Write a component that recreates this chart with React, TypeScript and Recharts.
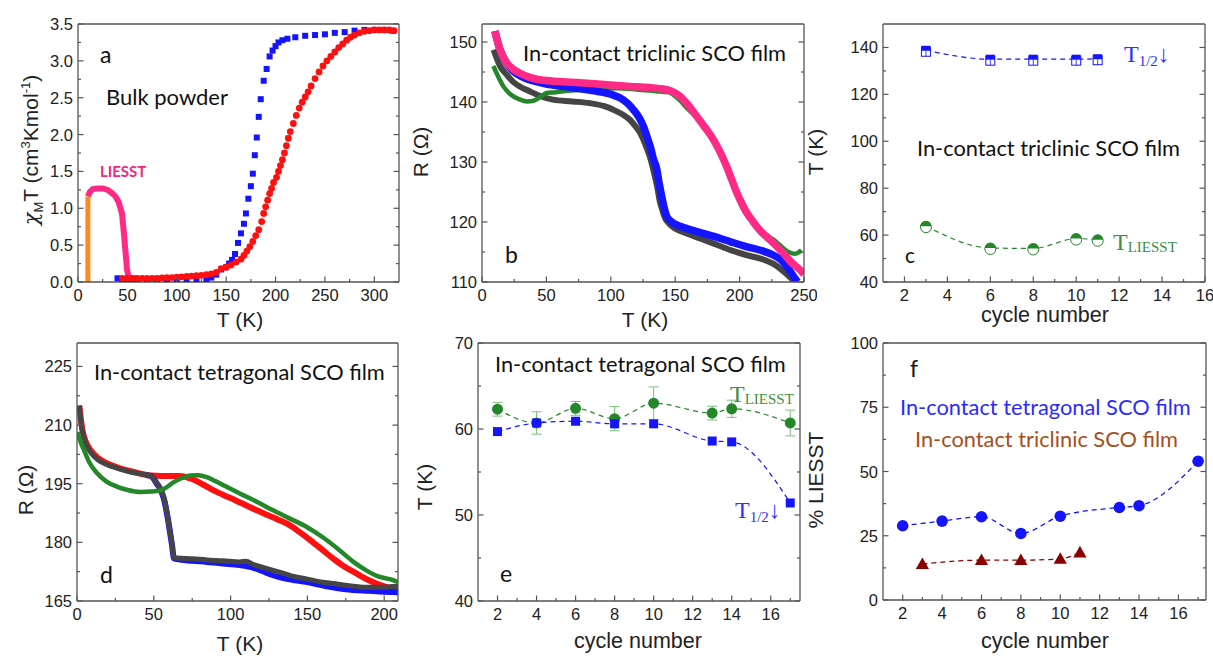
import React from 'react';
import { ComposedChart, XAxis, YAxis, Line, Scatter, ErrorBar } from 'recharts';

// ---------- Panel a : bulk powder chi_M T vs T ----------
const aCooling: [number, number][] = [
  [40, 0.05], [45, 0.03], [50, 0.02], [55, 0.02], [60, 0.01], [70, 0.01], [80, 0.01], [90, 0.01], [100, 0.01],
  [110, 0.02], [120, 0.02], [130, 0.04], [135, 0.06], [140, 0.1], [145, 0.17], [150, 0.2], [153, 0.25], [156, 0.3],
  [159, 0.38], [162, 0.53], [165, 0.66], [168, 0.79], [170, 0.93], [172.5, 1.13], [175, 1.3], [177, 1.47],
  [179, 1.72], [181, 1.96], [183, 2.24], [185, 2.48], [188, 2.73], [191, 2.89], [194, 3.06], [197, 3.14],
  [200, 3.2], [203, 3.25], [207, 3.28], [212, 3.3], [220, 3.32], [230, 3.34], [240, 3.35], [250, 3.36],
  [260, 3.38], [270, 3.39], [280, 3.41], [290, 3.42], [300, 3.42], [310, 3.42], [318, 3.41],
];
const aHeating: [number, number][] = [
  [45, 0.05], [50, 0.05], [55, 0.05], [60, 0.05], [65, 0.05], [70, 0.05], [75, 0.05], [80, 0.05], [85, 0.055],
  [90, 0.06], [95, 0.06], [100, 0.065], [105, 0.07], [110, 0.075], [115, 0.08], [120, 0.085], [125, 0.09],
  [130, 0.1], [135, 0.11], [140, 0.13], [145, 0.18], [150, 0.2], [155, 0.23], [160, 0.27], [165, 0.31],
  [168, 0.36], [171, 0.42], [174, 0.48], [177, 0.55], [180, 0.63], [183, 0.71], [186, 0.82], [188, 0.93],
  [190, 1.02], [192, 1.11], [194, 1.2], [196, 1.27], [198, 1.35], [201, 1.42], [203, 1.5], [205, 1.58],
  [207, 1.66], [209, 1.75], [211, 1.85], [213, 1.95], [215, 2.04], [218, 2.15], [221, 2.26], [224, 2.36],
  [227, 2.44], [230, 2.51], [233, 2.58], [236, 2.66], [240, 2.76], [244, 2.85], [248, 2.93], [252, 3.0],
  [256, 3.06], [260, 3.12], [264, 3.18], [268, 3.23], [272, 3.28], [276, 3.32], [280, 3.35], [285, 3.38],
  [290, 3.4], [295, 3.41], [300, 3.42], [305, 3.42], [310, 3.42], [315, 3.42], [320, 3.41],
];
const aLiesst: [number, number][] = [
  [10, 1.16], [12, 1.22], [15, 1.26], [20, 1.27], [25, 1.27], [30, 1.25], [35, 1.2], [38, 1.16], [41, 1.09],
  [43, 1.0], [44.5, 0.93], [45.5, 0.8], [46.5, 0.66], [47.5, 0.5], [48.5, 0.35], [49.5, 0.18], [51, 0.08],
  [54, 0.05], [60, 0.05],
];
const aIrradiation: [number, number][] = [[10, 0], [10, 1.16]];

// ---------- Panel b : triclinic film R vs T ----------
const bGray: [number, number][] = [
  [9, 148.7], [14, 146], [19, 144.6], [24, 143.4], [30, 142.5], [37, 141.8], [45, 141], [55, 140.4], [70, 140.1],
  [84, 139.8], [95, 139.3], [102, 138.7], [110, 137.8], [115, 137], [120, 135.7], [123, 134.8], [127, 132.8],
  [131, 130.4], [134, 127.8], [136, 125.9], [138, 123.5], [140, 122], [142, 120.7], [145, 119.8], [150, 118.9],
  [159, 118.1], [170, 117.2], [180, 116.4], [193, 115.3], [205, 114.5], [219, 113.7], [228, 112.8], [237, 111.2],
  [243, 110],
];
const bGreen: [number, number][] = [
  [8.8, 146], [12, 144.5], [16.6, 142.6], [22, 141.3], [29.5, 140.4], [35, 140.1], [40, 140.2], [45, 140.8],
  [50, 141.5], [56, 141.6], [63, 141.8], [75, 142], [90, 142.2], [105, 142.3], [120, 142.1], [135, 141.8],
  [145, 141.6], [152, 140.6], [160, 138.8], [167, 137.4], [175, 135], [180, 133.4], [185, 131.3], [190, 129],
  [195, 126.3], [198, 124.5], [203, 122], [208, 120.6], [214, 119.3], [220, 118], [226, 117.1], [232, 116],
  [238, 115], [243, 114.7], [248, 115.3],
];
const bBlue: [number, number][] = [
  [10, 151.8], [14, 148.7], [19, 146.5], [25, 145], [32, 144.1], [40, 143.5], [50, 143], [63, 142.6], [76, 142.2],
  [89, 141.8], [100, 141.3], [107, 140.7], [113, 139.8], [117.6, 138.7], [122, 137.4], [125.4, 135.9],
  [128, 134.3], [130.6, 132.6], [133, 130.6], [135.8, 128.7], [137.5, 126.5], [139.6, 124.2], [141.5, 122.3],
  [143.5, 120.9], [148.7, 119.8], [155, 119.2], [167, 118.4], [180, 117.6], [193, 116.7], [205, 115.9],
  [219, 115.1], [226, 114.5], [232, 113.7], [237, 112.5], [242, 110.9], [245, 110],
];
const bPink: [number, number][] = [
  [10, 151.8], [14, 148.7], [19.2, 146.5], [24, 145.5], [29.5, 144.8], [37, 144.1], [45, 143.7], [60, 143.4],
  [76, 143.2], [95, 142.9], [115, 142.6], [130, 142.4], [143.5, 142.05], [150, 141.5], [154, 140.9], [160, 139.5],
  [166.8, 137.6], [173, 135.8], [179.8, 133.7], [185, 131.6], [190, 129.2], [194, 127], [198, 124.8], [202, 123],
  [205.7, 121.5], [210, 120.2], [213.5, 119.2], [218, 118.1], [223.8, 117], [229, 115.9], [234, 114.8],
  [240, 113.3], [247, 112], [250, 111.3],
];

// ---------- Panel c : triclinic film vs cycle ----------
const cCycles = [3, 6, 8, 10, 11];
const cT12 = [138.8, 135, 135, 135, 135.2];
const cTLiesst = [63.8, 54.5, 54.3, 58.5, 58];

// ---------- Panel d : tetragonal film R vs T ----------
const dRed: [number, number][] = [
  [1.5, 215], [3.6, 208.6], [6, 205.5], [9, 203.5], [14, 201.5], [20, 200.1], [26, 199.2], [33, 198.4],
  [40, 197.7], [48, 197.1], [55, 197], [62, 197], [67, 197], [75, 196.2], [82, 194.8], [89, 193.3], [96, 192],
  [103, 190.8], [110, 189.5], [117, 188.2], [124, 187], [131, 185.8], [138.5, 184.4], [145, 182.6], [152, 180.5],
  [160, 178], [167, 175.8], [174, 173.8], [181.6, 172.1], [190, 170.3], [198, 169], [205, 168.2], [209, 167.8],
];
const dBlue: [number, number][] = [
  [45, 197.2], [48, 197], [52, 195], [55, 193], [57, 190.5], [58.5, 187.5], [59.7, 184.8], [61, 181.5],
  [62, 178.9], [63, 176], [65, 175.7], [75, 175.3], [84.5, 175], [95, 174.6], [106, 174.2], [115, 173.5],
  [121, 172.6], [127.7, 171.6], [135, 170.8], [142, 170.3], [149, 169.9], [160, 169], [175, 168], [190, 167.6],
  [205, 167.3], [209, 167.2],
];
const dGray: [number, number][] = [
  [1.5, 215], [2.5, 211], [3.6, 208.3], [6, 205], [9, 203], [14, 201], [20, 199.8], [26, 199], [33, 198.2],
  [40, 197.6], [48, 197], [52, 195.2], [55, 193.2], [57, 190.8], [58.5, 187.8], [59.7, 185], [61, 181.8],
  [62, 179], [63, 176.2], [65, 176], [75, 175.8], [84.5, 175.5], [95, 175.3], [106, 175], [110, 175.2],
  [115, 174.3], [121, 173.6], [127.7, 172.8], [135, 172], [142, 171.2], [150, 170.6], [160, 169.8], [170, 169.3],
  [180, 168.8], [190, 168.5], [200, 168.5], [205, 168.7], [209, 168.7],
];
const dGreen: [number, number][] = [
  [0.4, 208.2], [2.5, 205.5], [4.7, 203.5], [8, 200.5], [13.3, 197.6], [19, 195.6], [26.3, 194.2], [33, 193.4],
  [41.4, 192.9], [48, 193], [54.4, 193.3], [58, 194], [63, 195.4], [68, 196.4], [73.8, 197.1], [79, 197.2],
  [84.5, 196.7], [90, 195.7], [97, 194.3], [106, 192.5], [117, 190.4], [127.7, 188.2], [138, 186.2],
  [149.3, 184], [160, 181.3], [170.9, 178], [180, 175], [188, 172.9], [196, 171.3], [205.4, 170.4], [209, 169.8],
];

// ---------- Panel e : tetragonal film vs cycle ----------
const eCycles = [2, 4, 6, 8, 10, 13, 14, 17];
const eTLiesst = [62.3, 60.7, 62.4, 61.2, 63.0, 61.85, 62.35, 60.7];
const eTLiesstErr = [0.8, 1.3, 0.8, 1.4, 1.9, 0.8, 1.0, 1.5];
const eT12 = [59.7, 60.7, 60.9, 60.6, 60.6, 58.6, 58.5, 51.4];

// ---------- Panel f : % LIESST vs cycle ----------
const fTetCycles = [2, 4, 6, 8, 10, 13, 14, 17];
const fTetLiesst = [28.9, 30.7, 32.4, 25.9, 32.6, 36.0, 36.7, 54.0];
const fTriCycles = [3, 6, 8, 10, 11];
const fTriLiesst = [14, 15.5, 15.5, 16, 18.5];

// ---------- tick labels ----------
const aXMajor = [0, 50, 100, 150, 200, 250, 300];
const aXMinor = [25, 75, 125, 175, 225, 275];
const aYMajor = [0, 0.5, 1, 1.5, 2, 2.5, 3, 3.5];
const aYMinor = [0.25, 0.75, 1.25, 1.75, 2.25, 2.75, 3.25];
const bXMajor = [0, 50, 100, 150, 200, 250];
const bXMinor = [25, 75, 125, 175, 225];
const bYMajor = [110, 120, 130, 140, 150];
const bYMinor = [115, 125, 135, 145];
const cycXMajor = [2, 4, 6, 8, 10, 12, 14, 16];
const cycXMinor = [3, 5, 7, 9, 11, 13, 15, 17];
const cYMajor = [40, 60, 80, 100, 120, 140];
const cYMinor = [50, 70, 90, 110, 130];
const dXMajor = [0, 50, 100, 150, 200];
const dXMinor = [25, 75, 125, 175];
const dYMajor = [165, 180, 195, 210, 225];
const dYMinor = [172.5, 187.5, 202.5, 217.5];
const eYMajor = [40, 50, 60, 70];
const eYMinor = [45, 55, 65];
const fYMajor = [0, 25, 50, 75, 100];
const fYMinor = [12.5, 37.5, 62.5, 87.5];

const pts = (arr: [number, number][]) => arr.map(([x, y]) => ({ x, y }));
const zipPts = (xs: number[], ys: number[]) => xs.map((x, i) => ({ x, y: ys[i] }));

const SANS = '"Liberation Sans", Arial, sans-serif';
const CAL = 'Lato, "Open Sans", sans-serif';
const SERIF = '"Liberation Serif", "Times New Roman", serif';
const FRAME = '#555';
const AXLINE = { stroke: FRAME, strokeWidth: 1.3 };
const TICKFONT = 16.5;
const TITLEFONT = 21.8;

const BLUE = '#1414ff';
const RED = '#ff1010';
const PINK = '#ff2a85';
const ORANGE = '#ff8a1c';
const GRAY = '#454545';
const GREEN = '#24872a';

function makeTick(side: string, majors: number[], fmt: (v: number) => string, showLabel: boolean) {
  return (p: any) => {
    const { x, y, payload } = p;
    const v = payload.value;
    const isMajor = majors.some((m) => Math.abs(m - v) < 1e-9);
    const len = isMajor ? 5.5 : 3;
    let line: any = null;
    let label: any = null;
    if (side === 'bottom') {
      line = <line x1={x} y1={y} x2={x} y2={y - len} stroke={FRAME} strokeWidth={1.2} />;
      if (showLabel && isMajor)
        label = <text x={x} y={y + 19} textAnchor="middle" fontFamily={SANS} fontSize={TICKFONT} fill="#222">{fmt(v)}</text>;
    } else if (side === 'top') {
      line = <line x1={x} y1={y} x2={x} y2={y + len} stroke={FRAME} strokeWidth={1.2} />;
    } else if (side === 'left') {
      line = <line x1={x} y1={y} x2={x + len} y2={y} stroke={FRAME} strokeWidth={1.2} />;
      if (showLabel && isMajor)
        label = <text x={x - 5} y={y + 6} textAnchor="end" fontFamily={SANS} fontSize={TICKFONT} fill="#222">{fmt(v)}</text>;
    } else {
      line = <line x1={x} y1={y} x2={x - len} y2={y} stroke={FRAME} strokeWidth={1.2} />;
    }
    return <g>{line}{label}</g>;
  };
}

type Box = { L: number; T: number; R: number; B: number };

function Panel(props: {
  box: Box; xd: [number, number]; yd: [number, number];
  xMaj: number[]; xMin: number[]; yMaj: number[]; yMin: number[];
  yFmt?: (v: number) => string; children?: any;
}) {
  const { box, xd, yd, xMaj, xMin, yMaj, yMin, children } = props;
  const yFmt = props.yFmt || ((v: number) => String(v));
  const mL = 60, mT = 10, mR = 12, mB = 32;
  const w = box.R - box.L + mL + mR + 2;
  const h = box.B - box.T + mT + mB + 2;
  const xt = [...xMaj, ...xMin].filter((v) => v >= xd[0] && v <= xd[1]).sort((a, b) => a - b);
  const yt = [...yMaj, ...yMin].filter((v) => v >= yd[0] && v <= yd[1]).sort((a, b) => a - b);
  const common = { type: 'number' as const, interval: 0 as const, tickSize: 0, tickMargin: 0, tickLine: false, axisLine: AXLINE, allowDataOverflow: true };
  return (
    <div style={{ position: 'absolute', left: box.L - mL - 1, top: box.T - mT - 1 }}>
      <ComposedChart width={w} height={h} margin={{ left: mL, top: mT, right: mR, bottom: mB }}>
        <XAxis {...common} dataKey="x" domain={xd} ticks={xt} height={1} tick={makeTick('bottom', xMaj, String, true)} />
        <XAxis {...common} xAxisId="top" orientation="top" domain={xd} ticks={xt} height={1} tick={makeTick('top', xMaj, String, false)} />
        <YAxis {...common} dataKey="y" domain={yd} ticks={yt} width={1} tick={makeTick('left', yMaj, yFmt, true)} />
        <YAxis {...common} yAxisId="right" orientation="right" domain={yd} ticks={yt} width={1} tick={makeTick('right', yMaj, yFmt, false)} />
        {children}
      </ComposedChart>
    </div>
  );
}

const squareShape = (s: number, fill: string) => (p: any) => (
  <rect x={p.cx - s / 2} y={p.cy - s / 2} width={s} height={s} fill={fill} />
);
const circleShape = (r: number, fill: string, stroke?: string) => (p: any) => (
  <circle cx={p.cx} cy={p.cy} r={r} fill={fill} stroke={stroke || 'none'} strokeWidth={1} />
);
const triShape = (s: number, fill: string) => (p: any) => (
  <polygon points={`${p.cx},${p.cy - s * 0.6} ${p.cx - s * 0.6},${p.cy + s * 0.45} ${p.cx + s * 0.6},${p.cy + s * 0.45}`} fill={fill} />
);
const halfCircle = (r: number, c: string) => (p: any) => (
  <g>
    <circle cx={p.cx} cy={p.cy + 1} r={r} fill="#fff" stroke={c} strokeWidth={1} />
    <path d={`M ${p.cx - r} ${p.cy} A ${r} ${r} 0 0 1 ${p.cx + r} ${p.cy} Z`} fill={c} />
  </g>
);
const halfSquare = (s: number, c: string) => (p: any) => (
  <g>
    <rect x={p.cx - s / 2} y={p.cy - s / 2 + 1.5} width={s} height={s} fill="#fff" stroke={c} strokeWidth={1} />
    <line x1={p.cx} y1={p.cy} x2={p.cx} y2={p.cy + s / 2 + 1.5} stroke={c} strokeWidth={0.8} />
    <rect x={p.cx - s / 2} y={p.cy - s / 2} width={s} height={s / 2 + 0.5} fill={c} />
  </g>
);

const dash = '5 4';

export default function App() {
  const eGreen = eCycles.map((c, i) => ({ x: c, y: eTLiesst[i], err: eTLiesstErr[i] }));
  return (
    <div style={{ position: 'absolute', left: 0, top: 0, width: 1213, height: 656, background: '#fff', overflow: 'hidden' }}>
      {/* a */}
      <Panel box={{ L: 78, T: 24, R: 399, B: 282 }} xd={[0, 325]} yd={[0, 3.5]} xMaj={aXMajor} xMin={aXMinor} yMaj={aYMajor} yMin={aYMinor} yFmt={(v) => v.toFixed(1)}>
        <Scatter data={pts(aCooling)} dataKey="y" shape={squareShape(6, BLUE)} isAnimationActive={false} />
        <Scatter data={pts(aHeating)} dataKey="y" shape={circleShape(3.4, RED)} isAnimationActive={false} />
        <Line data={pts(aLiesst)} dataKey="y" type="linear" stroke={PINK} strokeWidth={6} dot={false} isAnimationActive={false} />
        <Line data={pts(aIrradiation)} dataKey="y" type="linear" stroke={ORANGE} strokeWidth={5} dot={false} isAnimationActive={false} />
      </Panel>
      {/* b */}
      <Panel box={{ L: 482, T: 24, R: 804, B: 282 }} xd={[0, 250]} yd={[110, 153]} xMaj={bXMajor} xMin={bXMinor} yMaj={bYMajor} yMin={bYMinor}>
        <Line data={pts(bGray)} dataKey="y" type="monotone" stroke={GRAY} strokeWidth={6} dot={false} isAnimationActive={false} />
        <Line data={pts(bGreen)} dataKey="y" type="monotone" stroke={GREEN} strokeWidth={4.5} dot={false} isAnimationActive={false} />
        <Line data={pts(bBlue)} dataKey="y" type="monotone" stroke={BLUE} strokeWidth={7.5} dot={false} isAnimationActive={false} />
        <Line data={pts(bPink)} dataKey="y" type="monotone" stroke={PINK} strokeWidth={7.5} dot={false} isAnimationActive={false} />
      </Panel>
      {/* c */}
      <Panel box={{ L: 883, T: 24, R: 1205, B: 282 }} xd={[1, 16]} yd={[40, 150]} xMaj={cycXMajor} xMin={cycXMinor} yMaj={cYMajor} yMin={cYMinor}>
        <Line data={zipPts(cCycles, cT12)} dataKey="y" type="monotone" stroke={BLUE} strokeWidth={1.2} strokeDasharray={dash} dot={false} isAnimationActive={false} />
        <Line data={zipPts(cCycles, cTLiesst)} dataKey="y" type="monotone" stroke={GREEN} strokeWidth={1.2} strokeDasharray={dash} dot={false} isAnimationActive={false} />
        <Scatter data={zipPts(cCycles, cT12)} dataKey="y" shape={halfSquare(9, BLUE)} isAnimationActive={false} />
        <Scatter data={zipPts(cCycles, cTLiesst)} dataKey="y" shape={halfCircle(5.5, GREEN)} isAnimationActive={false} />
      </Panel>
      {/* d */}
      <Panel box={{ L: 77, T: 343, R: 398, B: 601 }} xd={[0, 209]} yd={[165, 231]} xMaj={dXMajor} xMin={dXMinor} yMaj={dYMajor} yMin={dYMinor}>
        <Line data={pts(dRed)} dataKey="y" type="monotone" stroke={RED} strokeWidth={6} dot={false} isAnimationActive={false} />
        <Line data={pts(dBlue)} dataKey="y" type="monotone" stroke={BLUE} strokeWidth={6} dot={false} isAnimationActive={false} />
        <Line data={pts(dGray)} dataKey="y" type="monotone" stroke={GRAY} strokeWidth={5} dot={false} isAnimationActive={false} />
        <Line data={pts(dGreen)} dataKey="y" type="monotone" stroke={GREEN} strokeWidth={4.5} dot={false} isAnimationActive={false} />
      </Panel>
      {/* e */}
      <Panel box={{ L: 478, T: 343, R: 800, B: 601 }} xd={[1, 17.5]} yd={[40, 70]} xMaj={cycXMajor} xMin={cycXMinor} yMaj={eYMajor} yMin={eYMinor}>
        <Line data={zipPts(eCycles, eTLiesst)} dataKey="y" type="monotone" stroke={GREEN} strokeWidth={1.2} strokeDasharray={dash} dot={false} isAnimationActive={false} />
        <Line data={zipPts(eCycles, eT12)} dataKey="y" type="monotone" stroke={BLUE} strokeWidth={1.2} strokeDasharray={dash} dot={false} isAnimationActive={false} />
        <Scatter data={eGreen} dataKey="y" shape={circleShape(5.5, GREEN)} isAnimationActive={false}>
          <ErrorBar dataKey="err" direction="y" width={5} stroke="#7cc07c" strokeWidth={1} />
        </Scatter>
        <Scatter data={zipPts(eCycles, eT12)} dataKey="y" shape={squareShape(9, BLUE)} isAnimationActive={false} />
      </Panel>
      {/* f */}
      <Panel box={{ L: 883, T: 343, R: 1206, B: 600 }} xd={[1, 17.4]} yd={[0, 100]} xMaj={cycXMajor} xMin={cycXMinor} yMaj={fYMajor} yMin={fYMinor}>
        <Line data={zipPts(fTetCycles, fTetLiesst)} dataKey="y" type="monotone" stroke={BLUE} strokeWidth={1.3} strokeDasharray={dash} dot={false} isAnimationActive={false} />
        <Line data={zipPts(fTriCycles, fTriLiesst)} dataKey="y" type="monotone" stroke="#8b0000" strokeWidth={1.3} strokeDasharray={dash} dot={false} isAnimationActive={false} />
        <Scatter data={zipPts(fTetCycles, fTetLiesst)} dataKey="y" shape={circleShape(5.8, BLUE)} isAnimationActive={false} />
        <Scatter data={zipPts(fTriCycles, fTriLiesst)} dataKey="y" shape={triShape(11, '#8b0000')} isAnimationActive={false} />
      </Panel>

      <svg width={1213} height={656} style={{ position: 'absolute', left: 0, top: 0, pointerEvents: 'none' }}>
        {/* axis titles */}
        <g fontFamily={SANS} fontSize={21} fill="#222">
          <text x={240} y={327} textAnchor="middle">T (K)</text>
          <text x={645} y={327} textAnchor="middle">T (K)</text>
          <text x={1045} y={322} fontSize={21.5} textAnchor="middle">cycle number</text>
          <text x={240} y={651} textAnchor="middle">T (K)</text>
          <text x={638} y={648} fontSize={21.5} textAnchor="middle">cycle number</text>
          <text x={1045} y={648} fontSize={21.5} textAnchor="middle">cycle number</text>
          <text transform="translate(38,150) rotate(-90)" textAnchor="middle">
            <tspan fontFamily={'"DejaVu Serif", serif'} fontStyle="italic">χ</tspan><tspan fontSize={13} dy={5}>M</tspan><tspan dy={-5}>T (cm</tspan>
            <tspan fontSize={13} dy={-8}>3</tspan><tspan dy={8}>Kmol</tspan>
            <tspan fontSize={13} dy={-8}>-1</tspan><tspan dy={8}>)</tspan>
          </text>
          <text transform="translate(428,152) rotate(-90)" textAnchor="middle">R (Ω)</text>
          <text transform="translate(823,152) rotate(-90)" textAnchor="middle">T (K)</text>
          <text transform="translate(33,490) rotate(-90)" textAnchor="middle">R (Ω)</text>
          <text transform="translate(432,487) rotate(-90)" textAnchor="middle">T (K)</text>
          <text transform="translate(823,480) rotate(-90)" textAnchor="middle">% LIESST</text>
        </g>
        {/* annotations */}
        <g fontFamily={CAL} fill="#111">
          <text x={100} y={63} fontSize={23}>a</text>
          <text x={106} y={105} fontSize={22}>Bulk powder</text>
          <text x={505} y={263} fontSize={23}>b</text>
          <text x={523} y={61} fontSize={TITLEFONT}>In-contact triclinic SCO film</text>
          <text x={905} y={263} fontSize={21}>c</text>
          <text x={917} y={156} fontSize={TITLEFONT}>In-contact triclinic SCO film</text>
          <text x={100} y={583} fontSize={23}>d</text>
          <text x={94} y={380} fontSize={TITLEFONT}>In-contact tetragonal SCO film</text>
          <text x={500} y={582} fontSize={23}>e</text>
          <text x={495} y={372} fontSize={TITLEFONT}>In-contact tetragonal SCO film</text>
          <text x={910} y={377} fontSize={23}>f</text>
          <text x={900} y={415} fontSize={TITLEFONT} fill="#2b2bff">In-contact tetragonal SCO film</text>
          <text x={915} y={447} fontSize={TITLEFONT} fill="#a5501c">In-contact triclinic SCO film</text>
          <text x={100} y={177} fontSize={15} fontWeight="bold" fill="#ec2a7e">LIESST</text>
        </g>
        <g fontFamily={SERIF}>
          <text x={1124} y={62} fontSize={24} fill="#3030ff">T<tspan fontSize={15} dy={4}>1/2</tspan><tspan fontSize={24} dy={-4}>↓</tspan></text>
          <text x={1113} y={250} fontSize={24} fill="#3f8f3f">T<tspan fontSize={15} dy={2}>LIESST</tspan></text>
          <text x={730} y={402} fontSize={24} fill="#3f8f3f">T<tspan fontSize={15} dy={2}>LIESST</tspan></text>
          <text x={735} y={518} fontSize={24} fill="#3030ff">T<tspan fontSize={15} dy={4}>1/2</tspan><tspan fontSize={24} dy={-4}>↓</tspan></text>
        </g>
      </svg>
    </div>
  );
}
